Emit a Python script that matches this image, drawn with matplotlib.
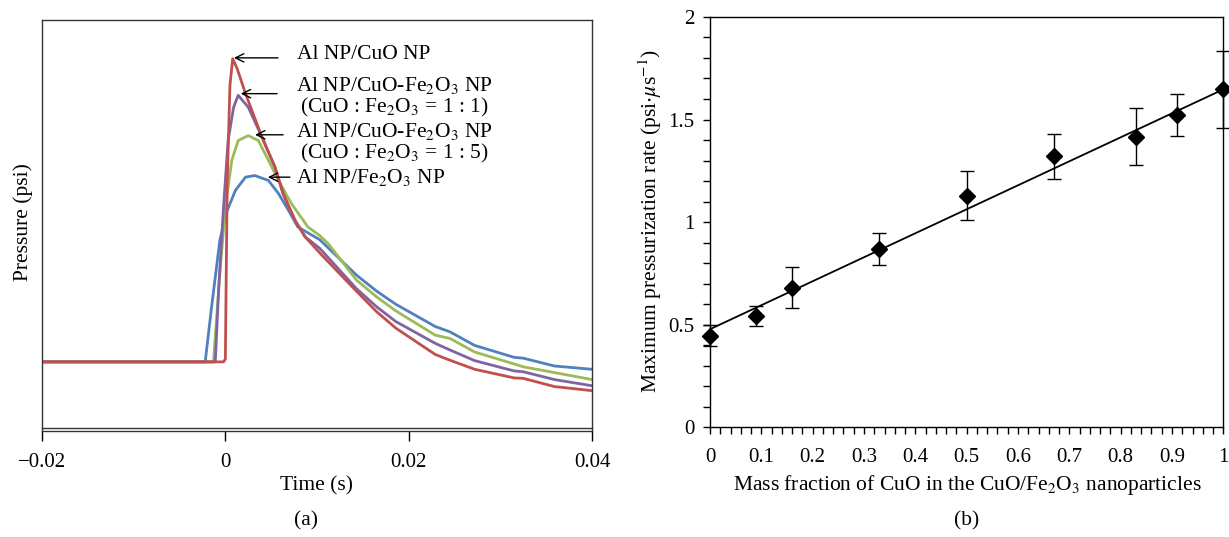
import matplotlib
matplotlib.use('Agg')
import matplotlib.pyplot as plt
from matplotlib.ticker import MultipleLocator

plt.rcParams['font.family'] = ['Liberation Serif', 'DejaVu Serif']
plt.rcParams['mathtext.fontset'] = 'stix'

# ---- panel (a): pressure traces (time in s, pressure arb.)
t_blue = [-0.0200, -0.0022, -0.0015, -0.0006, 0.0002, 0.0011, 0.0022, 0.0032, 0.0047,
          0.0058, 0.0069, 0.0079, 0.0103, 0.0143, 0.0165, 0.0186, 0.0229, 0.0245,
          0.0272, 0.0315, 0.0325, 0.0359, 0.0400]
p_blue = [16.8, 16.8, 30.2, 46.4, 53.6, 58.5, 61.7, 62.1, 60.9,
          57.7, 53.6, 49.6, 46.5, 37.9, 34.0, 30.8, 25.4, 24.1,
          20.8, 17.9, 17.7, 15.8, 15.0]

t_green = [-0.0200, -0.0013, -0.0006, 0.0000, 0.0007, 0.0014, 0.0025, 0.0036, 0.0047,
           0.0058, 0.0072, 0.0090, 0.0103, 0.0112, 0.0143, 0.0165, 0.0186, 0.0229,
           0.0245, 0.0272, 0.0315, 0.0325, 0.0359, 0.0400]
p_green = [16.8, 16.8, 38.3, 54.4, 65.8, 70.6, 71.8, 70.6, 65.8,
           60.9, 55.3, 49.6, 47.5, 45.6, 36.7, 32.6, 29.2, 23.3,
           22.5, 19.2, 16.3, 15.6, 14.2, 12.5]

t_purple = [-0.0200, -0.0011, -0.0007, -0.0002, 0.0003, 0.0009, 0.0014, 0.0025, 0.0040,
            0.0054, 0.0063, 0.0076, 0.0087, 0.0103, 0.0143, 0.0165, 0.0186, 0.0229,
            0.0245, 0.0272, 0.0315, 0.0325, 0.0359, 0.0400]
p_purple = [16.8, 16.8, 35.8, 54.4, 70.6, 78.7, 81.6, 78.7, 71.4,
            64.2, 57.7, 51.2, 47.2, 44.4, 34.6, 30.2, 26.6, 21.3,
            19.7, 17.1, 14.6, 14.4, 12.5, 11.0]

t_red = [-0.0200, -0.0002, 0.0000, 0.0002, 0.0005, 0.0008, 0.0013, 0.0022, 0.0040,
         0.0054, 0.0063, 0.0076, 0.0087, 0.0105, 0.0143, 0.0165, 0.0186, 0.0229,
         0.0245, 0.0272, 0.0315, 0.0325, 0.0359, 0.0400]
p_red = [16.8, 16.8, 17.5, 60.0, 84.0, 90.5, 88.0, 82.0, 71.4,
         64.2, 57.7, 51.2, 47.2, 42.8, 34.0, 29.0, 25.0, 18.6,
         17.2, 15.0, 12.9, 12.8, 10.8, 9.8]

time_ticks = [-0.02, 0, 0.02, 0.04]
time_ticklabels = ['\u22120.02', '0', '0.02', '0.04']

# ---- panel (b): max pressurization rate vs CuO mass fraction
mass_fraction = [0, 0.09, 0.16, 0.33, 0.5, 0.67, 0.83, 0.91, 1.0]
max_rate = [0.445, 0.542, 0.680, 0.871, 1.128, 1.322, 1.416, 1.522, 1.649]
rate_lo = [0.398, 0.495, 0.582, 0.791, 1.008, 1.211, 1.277, 1.420, 1.457]
rate_hi = [0.498, 0.591, 0.779, 0.949, 1.249, 1.430, 1.554, 1.623, 1.835]
fit_x = [0, 1]
fit_y = [0.478, 1.647]

fig = plt.figure(figsize=(12.29, 5.37), dpi=100)

# ================= (a)
ax = fig.add_axes([0.0342, 0.1974, 0.4475, 0.7661])
ax.plot(t_blue, p_blue, color='#4F81BD', lw=2.0)
ax.plot(t_green, p_green, color='#9BBB59', lw=2.0)
ax.plot(t_purple, p_purple, color='#8064A2', lw=2.0)
ax.plot(t_red, p_red, color='#C0504D', lw=2.0)
ax.set_xlim(-0.02, 0.04)
ax.set_ylim(0, 100)
ax.set_yticks([])
ax.set_xticks(time_ticks)
ax.set_xticklabels(time_ticklabels)
ax.tick_params(axis='x', direction='out', length=7, width=1, labelsize=15, pad=9)
for sp in ax.spines.values():
    sp.set_linewidth(1.0)
    sp.set_color('#333333')
# double line at the bottom
ax.plot([0, 1], [0.008, 0.008], transform=ax.transAxes, color='#333333', lw=1.0, clip_on=False)

# annotations: arrows pointing at peaks
arrows = [((0.00094, 90.7), (0.00574, 90.7)),
          ((0.00168, 82.0), (0.00564, 82.0)),
          ((0.00324, 72.0), (0.00630, 72.0)),
          ((0.00464, 61.7), (0.00704, 61.7))]
for head, tail in arrows:
    ax.annotate('', xy=head, xytext=tail,
                arrowprops=dict(arrowstyle='->', color='black', lw=1.0,
                                shrinkA=0, shrinkB=0, mutation_scale=15))

fs = 15.5
ax.text(0.00778, 91.6, 'Al NP/CuO NP', fontsize=fs, ha='left', va='center')
ax.text(0.0184, 84.1, r'Al NP/CuO-Fe$_2$O$_3$ NP', fontsize=fs, ha='center', va='center')
ax.text(0.0184, 78.6, r'(CuO : Fe$_2$O$_3$ = 1 : 1)', fontsize=fs, ha='center', va='center')
ax.text(0.0184, 72.9, r'Al NP/CuO-Fe$_2$O$_3$ NP', fontsize=fs, ha='center', va='center')
ax.text(0.0184, 67.4, r'(CuO : Fe$_2$O$_3$ = 1 : 5)', fontsize=fs, ha='center', va='center')
ax.text(0.00770, 61.5, r'Al NP/Fe$_2$O$_3$ NP', fontsize=fs, ha='left', va='center')

lfs = 15.5
fig.text(316 / 1229, 1 - 486 / 537, 'Time (s)', fontsize=lfs, ha='center', va='center')
fig.text(23 / 1229, 1 - 222 / 537, 'Pressure (psi)', fontsize=lfs, ha='center', va='center',
         rotation=90)
fig.text(306 / 1229, 1 - 521 / 537, '(a)', fontsize=lfs, ha='center', va='center')

# ================= (b)
bx = fig.add_axes([0.5777, 0.2043, 0.4177, 0.7642])
yerr = [[m - lo for m, lo in zip(max_rate, rate_lo)],
        [hi - m for m, hi in zip(max_rate, rate_hi)]]
bx.plot(fit_x, fit_y, color='black', lw=1.3, zorder=2)
bx.errorbar(mass_fraction, max_rate, yerr=yerr, fmt='D', color='black', ms=8.5,
            ecolor='black', elinewidth=1.0, capsize=5, capthick=1.0, zorder=3, clip_on=False)
bx.set_xlim(0, 1)
bx.set_ylim(0, 2)
bx.set_xticks([0, 0.1, 0.2, 0.3, 0.4, 0.5, 0.6, 0.7, 0.8, 0.9, 1])
bx.set_xticklabels(['0', '0.1', '0.2', '0.3', '0.4', '0.5', '0.6', '0.7', '0.8', '0.9', '1'])
bx.set_yticks([0, 0.5, 1, 1.5, 2])
bx.set_yticklabels(['0', '0.5', '1', '1.5', '2'])
bx.xaxis.set_minor_locator(MultipleLocator(0.02))
bx.yaxis.set_minor_locator(MultipleLocator(0.1))
bx.tick_params(which='both', direction='out', length=5, width=1, labelsize=15)
bx.tick_params(axis='x', pad=10)
bx.tick_params(axis='y', pad=6)
for sp in bx.spines.values():
    sp.set_linewidth(1.0)

fig.text(967 / 1229, 1 - 485 / 537, r'Mass fraction of CuO in the CuO/Fe$_2$O$_3$ nanoparticles',
         fontsize=lfs, ha='center', va='center')
fig.text(650 / 1229, 1 - 221 / 537, r'Maximum pressurization rate (psi$\cdot\mu$s$^{-1}$)',
         fontsize=lfs, ha='center', va='center', rotation=90)
fig.text(967 / 1229, 1 - 521 / 537, '(b)', fontsize=lfs, ha='center', va='center')

fig.savefig('out.png', dpi=100)
